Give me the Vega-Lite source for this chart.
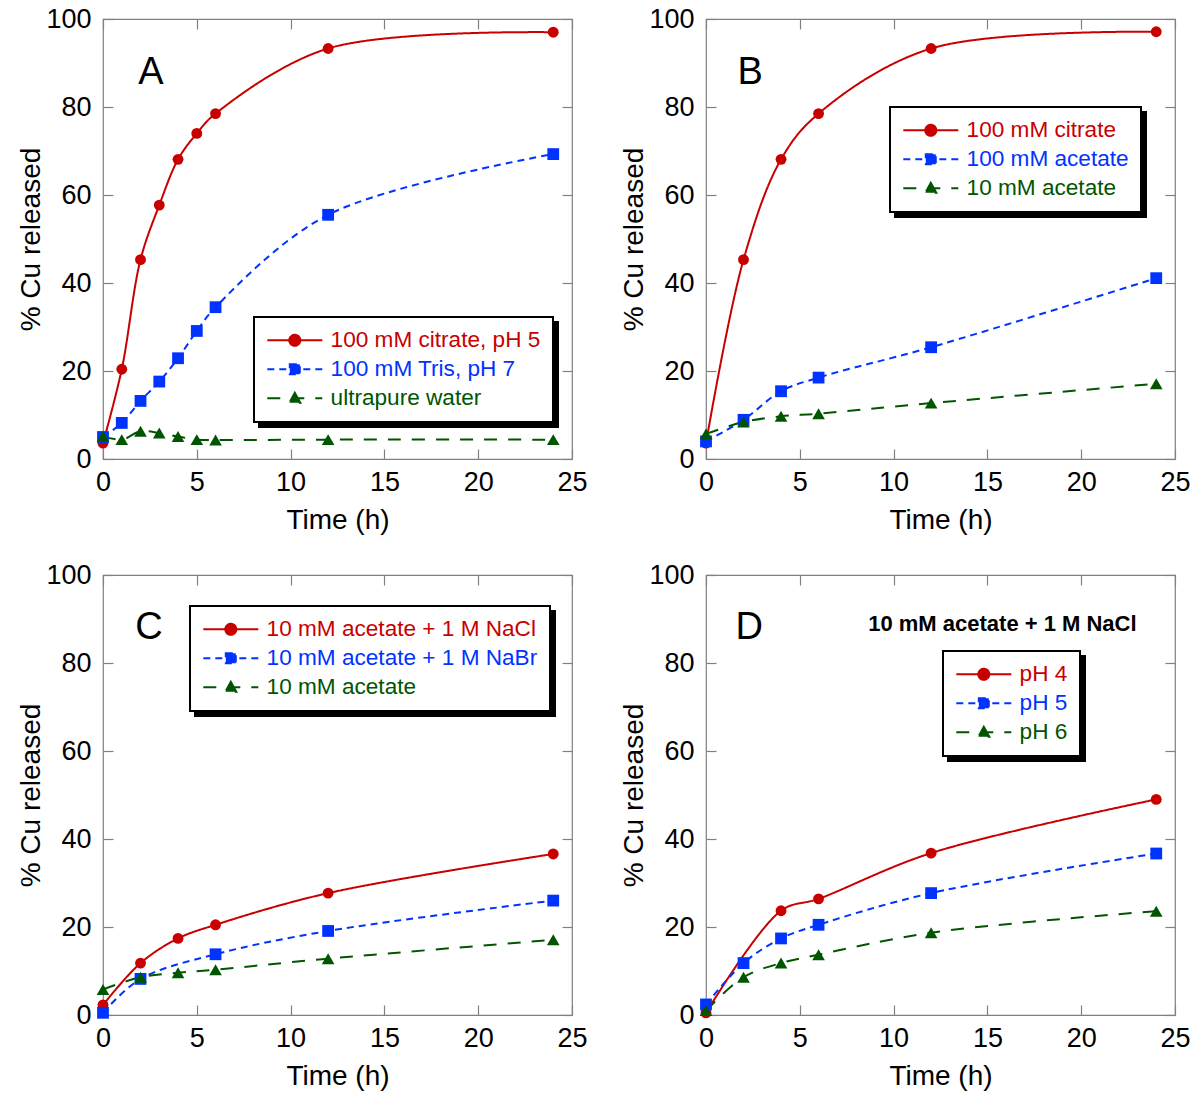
{
  "$schema": "https://vega.github.io/schema/vega-lite/v6.json",
  "background": "white",
  "padding": {"left": 17, "top": 4, "right": 5, "bottom": 5},
  "columns": 2,
  "spacing": {"row": 116, "column": 134},
  "bounds": "flush",
  "resolve": {"scale": {"color": "independent", "stroke": "independent", "strokeDash": "independent", "shape": "independent", "size": "independent"}},
  "config": {
    "view": {"stroke": "#808080", "strokeWidth": 1.2},
    "axis": {"labelFont": "Liberation Sans", "titleFont": "Liberation Sans", "labelFontSize": 27, "titleFontSize": 28, "titleFontWeight": "normal", "labelColor": "black", "titleColor": "black", "domain": false, "grid": false, "tickColor": "#808080", "tickSize": -10, "tickWidth": 1.2, "labelFlush": false, "labelOverlap": false},
    "axisX": {"titlePadding": 11, "labelPadding": 20},
    "axisY": {"titlePadding": 0, "labelPadding": 22},
    "legend": {"orient": "none", "title": null, "strokeColor": "black", "fillColor": "white", "strokeWidth": 2, "padding": 12, "labelFont": "Liberation Sans", "labelFontSize": 22.6, "labelOffset": 42, "labelLimit": 500, "symbolSize": 400, "symbolStrokeWidth": 2, "rowPadding": 6, "symbolOpacity": 1},
    "text": {"font": "Liberation Sans"}
  },
  "concat": [
    {
      "width": 469, "height": 440,
      "data": {"values": [
        {"t": 0, "v": 3.6, "s": "100 mM citrate, pH 5"},
        {"t": 1, "v": 20.4, "s": "100 mM citrate, pH 5"},
        {"t": 2, "v": 45.3, "s": "100 mM citrate, pH 5"},
        {"t": 3, "v": 57.7, "s": "100 mM citrate, pH 5"},
        {"t": 4, "v": 68.1, "s": "100 mM citrate, pH 5"},
        {"t": 5, "v": 74.0, "s": "100 mM citrate, pH 5"},
        {"t": 6, "v": 78.5, "s": "100 mM citrate, pH 5"},
        {"t": 12, "v": 93.3, "s": "100 mM citrate, pH 5"},
        {"t": 24, "v": 97.0, "s": "100 mM citrate, pH 5"},
        {"t": 0, "v": 5.0, "s": "100 mM Tris, pH 7"},
        {"t": 1, "v": 8.2, "s": "100 mM Tris, pH 7"},
        {"t": 2, "v": 13.2, "s": "100 mM Tris, pH 7"},
        {"t": 3, "v": 17.6, "s": "100 mM Tris, pH 7"},
        {"t": 4, "v": 22.9, "s": "100 mM Tris, pH 7"},
        {"t": 5, "v": 29.1, "s": "100 mM Tris, pH 7"},
        {"t": 6, "v": 34.5, "s": "100 mM Tris, pH 7"},
        {"t": 12, "v": 55.5, "s": "100 mM Tris, pH 7"},
        {"t": 24, "v": 69.3, "s": "100 mM Tris, pH 7"},
        {"t": 0, "v": 5.2, "s": "ultrapure water"},
        {"t": 1, "v": 4.4, "s": "ultrapure water"},
        {"t": 2, "v": 6.3, "s": "ultrapure water"},
        {"t": 3, "v": 5.9, "s": "ultrapure water"},
        {"t": 4, "v": 5.1, "s": "ultrapure water"},
        {"t": 5, "v": 4.4, "s": "ultrapure water"},
        {"t": 6, "v": 4.3, "s": "ultrapure water"},
        {"t": 12, "v": 4.4, "s": "ultrapure water"},
        {"t": 24, "v": 4.4, "s": "ultrapure water"}
      ]},
      "layer": [
        {
          "mark": {"type": "line", "interpolate": "catmull-rom", "strokeWidth": 2},
          "encoding": {
            "x": {"field": "t", "type": "quantitative", "scale": {"domain": [0, 25], "nice": false}, "axis": {"title": "Time (h)", "values": [0, 5, 10, 15, 20, 25]}},
            "y": {"field": "v", "type": "quantitative", "scale": {"domain": [0, 100], "nice": false}, "axis": {"title": "% Cu released", "values": [0, 20, 40, 60, 80, 100]}},
            "stroke": {"field": "s", "type": "nominal", "scale": {"domain": ["100 mM Tris, pH 7", "100 mM citrate, pH 5", "ultrapure water"], "range": ["#0033ff", "#c80000", "#005500"]},
              "legend": {"legendX": 156, "legendY": 303, "fillColor": "black", "strokeColor": "black", "labelColor": "black", "symbolOpacity": 0, "labelExpr": "''", "labelOffset": 252}},
            "strokeDash": {"field": "s", "type": "nominal", "scale": {"domain": ["100 mM citrate, pH 5", "100 mM Tris, pH 7", "ultrapure water"], "range": [[1, 0], [7, 5], [13, 11]]},
              "legend": {"legendX": 151, "legendY": 298,
                "symbolType": {"expr": "datum.value == '100 mM citrate, pH 5' ? 'M-1,0H4.5M1.2,0A0.55,0.55,0,1,1,2.3,0A0.55,0.55,0,1,1,1.2,0Z' : datum.value == '100 mM Tris, pH 7' ? 'M-1,0H4.5M1.25,-0.5H2.25V0.5H1.25Z' : 'M-1,0H4.5M1.75,-0.55L2.3,0.45H1.2Z'"},
                "symbolStrokeColor": {"expr": "datum.value == '100 mM citrate, pH 5' ? '#c80000' : datum.value == '100 mM Tris, pH 7' ? '#0033ff' : '#005500'"},
                "symbolFillColor": {"expr": "datum.value == '100 mM citrate, pH 5' ? '#c80000' : datum.value == '100 mM Tris, pH 7' ? '#0033ff' : '#005500'"},
                "labelColor": {"expr": "datum.value == '100 mM citrate, pH 5' ? '#c80000' : datum.value == '100 mM Tris, pH 7' ? '#0033ff' : '#005500'"}}}
          }
        },
        {
          "mark": {"type": "point", "filled": true, "opacity": 1},
          "encoding": {
            "x": {"field": "t", "type": "quantitative", "axis": null},
            "y": {"field": "v", "type": "quantitative", "axis": null},
            "color": {"field": "s", "type": "nominal", "scale": {"domain": ["ultrapure water", "100 mM Tris, pH 7", "100 mM citrate, pH 5"], "range": ["#005500", "#0033ff", "#c80000"]}, "legend": null},
            "shape": {"field": "s", "type": "nominal", "scale": {"domain": ["ultrapure water", "100 mM Tris, pH 7", "100 mM citrate, pH 5"], "range": ["triangle-up", "square", "circle"]}, "legend": null},
            "size": {"field": "s", "type": "nominal", "scale": {"domain": ["ultrapure water", "100 mM Tris, pH 7", "100 mM citrate, pH 5"], "range": [160, 118, 122]}, "legend": null}
          }
        },
        {
          "data": {"values": [{}]},
          "mark": {"type": "text", "fontSize": 38, "align": "center", "baseline": "middle", "color": "black"},
          "encoding": {
            "x": {"datum": 2.56, "type": "quantitative", "scale": {"domain": [0, 25], "nice": false}, "axis": {"orient": "top", "labels": false, "title": null, "values": [0, 5, 10, 15, 20, 25]}},
            "y": {"datum": 87.7, "type": "quantitative", "scale": {"domain": [0, 100], "nice": false}, "axis": {"orient": "right", "labels": false, "title": null, "values": [0, 20, 40, 60, 80, 100]}},
            "text": {"value": "A"}
          }
        }
      ],
      "resolve": {"axis": {"x": "independent", "y": "independent"}}
    },
    {
      "width": 469, "height": 440,
      "data": {"values": [
        {"t": 0, "v": 3.6, "s": "100 mM citrate"},
        {"t": 2, "v": 45.3, "s": "100 mM citrate"},
        {"t": 4, "v": 68.1, "s": "100 mM citrate"},
        {"t": 6, "v": 78.5, "s": "100 mM citrate"},
        {"t": 12, "v": 93.3, "s": "100 mM citrate"},
        {"t": 24, "v": 97.1, "s": "100 mM citrate"},
        {"t": 0, "v": 4.0, "s": "100 mM acetate"},
        {"t": 2, "v": 8.9, "s": "100 mM acetate"},
        {"t": 4, "v": 15.4, "s": "100 mM acetate"},
        {"t": 6, "v": 18.5, "s": "100 mM acetate"},
        {"t": 12, "v": 25.4, "s": "100 mM acetate"},
        {"t": 24, "v": 41.1, "s": "100 mM acetate"},
        {"t": 0, "v": 5.7, "s": "10 mM acetate"},
        {"t": 2, "v": 8.4, "s": "10 mM acetate"},
        {"t": 4, "v": 9.7, "s": "10 mM acetate"},
        {"t": 6, "v": 10.3, "s": "10 mM acetate"},
        {"t": 12, "v": 12.7, "s": "10 mM acetate"},
        {"t": 24, "v": 17.1, "s": "10 mM acetate"}
      ]},
      "layer": [
        {
          "mark": {"type": "line", "interpolate": "catmull-rom", "strokeWidth": 2},
          "encoding": {
            "x": {"field": "t", "type": "quantitative", "scale": {"domain": [0, 25], "nice": false}, "axis": {"title": "Time (h)", "values": [0, 5, 10, 15, 20, 25]}},
            "y": {"field": "v", "type": "quantitative", "scale": {"domain": [0, 100], "nice": false}, "axis": {"title": "% Cu released", "values": [0, 20, 40, 60, 80, 100]}},
            "stroke": {"field": "s", "type": "nominal", "scale": {"domain": ["100 mM acetate", "100 mM citrate", "10 mM acetate"], "range": ["#0033ff", "#c80000", "#005500"]},
              "legend": {"legendX": 189, "legendY": 93, "fillColor": "black", "strokeColor": "black", "labelColor": "black", "symbolOpacity": 0, "labelExpr": "''", "labelOffset": 204}},
            "strokeDash": {"field": "s", "type": "nominal", "scale": {"domain": ["100 mM citrate", "100 mM acetate", "10 mM acetate"], "range": [[1, 0], [7, 5], [13, 11]]},
              "legend": {"legendX": 184, "legendY": 88,
                "symbolType": {"expr": "datum.value == '100 mM citrate' ? 'M-1,0H4.5M1.2,0A0.55,0.55,0,1,1,2.3,0A0.55,0.55,0,1,1,1.2,0Z' : datum.value == '100 mM acetate' ? 'M-1,0H4.5M1.25,-0.5H2.25V0.5H1.25Z' : 'M-1,0H4.5M1.75,-0.55L2.3,0.45H1.2Z'"},
                "symbolStrokeColor": {"expr": "datum.value == '100 mM citrate' ? '#c80000' : datum.value == '100 mM acetate' ? '#0033ff' : '#005500'"},
                "symbolFillColor": {"expr": "datum.value == '100 mM citrate' ? '#c80000' : datum.value == '100 mM acetate' ? '#0033ff' : '#005500'"},
                "labelColor": {"expr": "datum.value == '100 mM citrate' ? '#c80000' : datum.value == '100 mM acetate' ? '#0033ff' : '#005500'"}}}
          }
        },
        {
          "mark": {"type": "point", "filled": true, "opacity": 1},
          "encoding": {
            "x": {"field": "t", "type": "quantitative", "axis": null},
            "y": {"field": "v", "type": "quantitative", "axis": null},
            "color": {"field": "s", "type": "nominal", "scale": {"domain": ["10 mM acetate", "100 mM acetate", "100 mM citrate"], "range": ["#005500", "#0033ff", "#c80000"]}, "legend": null},
            "shape": {"field": "s", "type": "nominal", "scale": {"domain": ["10 mM acetate", "100 mM acetate", "100 mM citrate"], "range": ["triangle-up", "square", "circle"]}, "legend": null},
            "size": {"field": "s", "type": "nominal", "scale": {"domain": ["10 mM acetate", "100 mM acetate", "100 mM citrate"], "range": [160, 118, 122]}, "legend": null}
          }
        },
        {
          "data": {"values": [{}]},
          "mark": {"type": "text", "fontSize": 38, "align": "center", "baseline": "middle", "color": "black"},
          "encoding": {
            "x": {"datum": 2.35, "type": "quantitative", "scale": {"domain": [0, 25], "nice": false}, "axis": {"orient": "top", "labels": false, "title": null, "values": [0, 5, 10, 15, 20, 25]}},
            "y": {"datum": 87.7, "type": "quantitative", "scale": {"domain": [0, 100], "nice": false}, "axis": {"orient": "right", "labels": false, "title": null, "values": [0, 20, 40, 60, 80, 100]}},
            "text": {"value": "B"}
          }
        }
      ],
      "resolve": {"axis": {"x": "independent", "y": "independent"}}
    },
    {
      "width": 469, "height": 440,
      "data": {"values": [
        {"t": 0, "v": 2.3, "s": "10 mM acetate + 1 M NaCl"},
        {"t": 2, "v": 11.8, "s": "10 mM acetate + 1 M NaCl"},
        {"t": 4, "v": 17.4, "s": "10 mM acetate + 1 M NaCl"},
        {"t": 6, "v": 20.5, "s": "10 mM acetate + 1 M NaCl"},
        {"t": 12, "v": 27.7, "s": "10 mM acetate + 1 M NaCl"},
        {"t": 24, "v": 36.6, "s": "10 mM acetate + 1 M NaCl"},
        {"t": 0, "v": 0.5, "s": "10 mM acetate + 1 M NaBr"},
        {"t": 2, "v": 8.2, "s": "10 mM acetate + 1 M NaBr"},
        {"t": 6, "v": 13.8, "s": "10 mM acetate + 1 M NaBr"},
        {"t": 12, "v": 19.1, "s": "10 mM acetate + 1 M NaBr"},
        {"t": 24, "v": 26.0, "s": "10 mM acetate + 1 M NaBr"},
        {"t": 0, "v": 5.8, "s": "10 mM acetate"},
        {"t": 2, "v": 8.6, "s": "10 mM acetate"},
        {"t": 4, "v": 9.6, "s": "10 mM acetate"},
        {"t": 6, "v": 10.3, "s": "10 mM acetate"},
        {"t": 12, "v": 12.8, "s": "10 mM acetate"},
        {"t": 24, "v": 17.1, "s": "10 mM acetate"}
      ]},
      "layer": [
        {
          "mark": {"type": "line", "interpolate": "catmull-rom", "strokeWidth": 2},
          "encoding": {
            "x": {"field": "t", "type": "quantitative", "scale": {"domain": [0, 25], "nice": false}, "axis": {"title": "Time (h)", "values": [0, 5, 10, 15, 20, 25]}},
            "y": {"field": "v", "type": "quantitative", "scale": {"domain": [0, 100], "nice": false}, "axis": {"title": "% Cu released", "values": [0, 20, 40, 60, 80, 100]}},
            "stroke": {"field": "s", "type": "nominal", "scale": {"domain": ["10 mM acetate + 1 M NaBr", "10 mM acetate + 1 M NaCl", "10 mM acetate"], "range": ["#0033ff", "#c80000", "#005500"]},
              "legend": {"legendX": 92, "legendY": 36, "fillColor": "black", "strokeColor": "black", "labelColor": "black", "symbolOpacity": 0, "labelExpr": "''", "labelOffset": 313}},
            "strokeDash": {"field": "s", "type": "nominal", "scale": {"domain": ["10 mM acetate + 1 M NaCl", "10 mM acetate + 1 M NaBr", "10 mM acetate"], "range": [[1, 0], [7, 5], [13, 11]]},
              "legend": {"legendX": 87, "legendY": 31,
                "symbolType": {"expr": "datum.value == '10 mM acetate + 1 M NaCl' ? 'M-1,0H4.5M1.2,0A0.55,0.55,0,1,1,2.3,0A0.55,0.55,0,1,1,1.2,0Z' : datum.value == '10 mM acetate + 1 M NaBr' ? 'M-1,0H4.5M1.25,-0.5H2.25V0.5H1.25Z' : 'M-1,0H4.5M1.75,-0.55L2.3,0.45H1.2Z'"},
                "symbolStrokeColor": {"expr": "datum.value == '10 mM acetate + 1 M NaCl' ? '#c80000' : datum.value == '10 mM acetate + 1 M NaBr' ? '#0033ff' : '#005500'"},
                "symbolFillColor": {"expr": "datum.value == '10 mM acetate + 1 M NaCl' ? '#c80000' : datum.value == '10 mM acetate + 1 M NaBr' ? '#0033ff' : '#005500'"},
                "labelColor": {"expr": "datum.value == '10 mM acetate + 1 M NaCl' ? '#c80000' : datum.value == '10 mM acetate + 1 M NaBr' ? '#0033ff' : '#005500'"}}}
          }
        },
        {
          "mark": {"type": "point", "filled": true, "opacity": 1},
          "encoding": {
            "x": {"field": "t", "type": "quantitative", "axis": null},
            "y": {"field": "v", "type": "quantitative", "axis": null},
            "color": {"field": "s", "type": "nominal", "scale": {"domain": ["10 mM acetate", "10 mM acetate + 1 M NaBr", "10 mM acetate + 1 M NaCl"], "range": ["#005500", "#0033ff", "#c80000"]}, "legend": null},
            "shape": {"field": "s", "type": "nominal", "scale": {"domain": ["10 mM acetate", "10 mM acetate + 1 M NaBr", "10 mM acetate + 1 M NaCl"], "range": ["triangle-up", "square", "circle"]}, "legend": null},
            "size": {"field": "s", "type": "nominal", "scale": {"domain": ["10 mM acetate", "10 mM acetate + 1 M NaBr", "10 mM acetate + 1 M NaCl"], "range": [160, 118, 122]}, "legend": null}
          }
        },
        {
          "data": {"values": [{}]},
          "mark": {"type": "text", "fontSize": 38, "align": "center", "baseline": "middle", "color": "black"},
          "encoding": {
            "x": {"datum": 2.45, "type": "quantitative", "scale": {"domain": [0, 25], "nice": false}, "axis": {"orient": "top", "labels": false, "title": null, "values": [0, 5, 10, 15, 20, 25]}},
            "y": {"datum": 88, "type": "quantitative", "scale": {"domain": [0, 100], "nice": false}, "axis": {"orient": "right", "labels": false, "title": null, "values": [0, 20, 40, 60, 80, 100]}},
            "text": {"value": "C"}
          }
        }
      ],
      "resolve": {"axis": {"x": "independent", "y": "independent"}}
    },
    {
      "width": 469, "height": 440,
      "data": {"values": [
        {"t": 0, "v": 0.5, "s": "pH 4"},
        {"t": 4, "v": 23.7, "s": "pH 4"},
        {"t": 6, "v": 26.4, "s": "pH 4"},
        {"t": 12, "v": 36.8, "s": "pH 4"},
        {"t": 24, "v": 49.0, "s": "pH 4"},
        {"t": 0, "v": 2.4, "s": "pH 5"},
        {"t": 2, "v": 11.8, "s": "pH 5"},
        {"t": 4, "v": 17.4, "s": "pH 5"},
        {"t": 6, "v": 20.5, "s": "pH 5"},
        {"t": 12, "v": 27.7, "s": "pH 5"},
        {"t": 24, "v": 36.7, "s": "pH 5"},
        {"t": 0, "v": 1.0, "s": "pH 6"},
        {"t": 2, "v": 8.6, "s": "pH 6"},
        {"t": 4, "v": 11.8, "s": "pH 6"},
        {"t": 6, "v": 13.7, "s": "pH 6"},
        {"t": 12, "v": 18.7, "s": "pH 6"},
        {"t": 24, "v": 23.6, "s": "pH 6"}
      ]},
      "layer": [
        {
          "mark": {"type": "line", "interpolate": "catmull-rom", "strokeWidth": 2},
          "encoding": {
            "x": {"field": "t", "type": "quantitative", "scale": {"domain": [0, 25], "nice": false}, "axis": {"title": "Time (h)", "values": [0, 5, 10, 15, 20, 25]}},
            "y": {"field": "v", "type": "quantitative", "scale": {"domain": [0, 100], "nice": false}, "axis": {"title": "% Cu released", "values": [0, 20, 40, 60, 80, 100]}},
            "stroke": {"field": "s", "type": "nominal", "scale": {"domain": ["pH 5", "pH 4", "pH 6"], "range": ["#0033ff", "#c80000", "#005500"]},
              "legend": {"legendX": 242, "legendY": 81, "fillColor": "black", "strokeColor": "black", "labelColor": "black", "symbolOpacity": 0, "labelExpr": "''", "labelOffset": 90}},
            "strokeDash": {"field": "s", "type": "nominal", "scale": {"domain": ["pH 4", "pH 5", "pH 6"], "range": [[1, 0], [7, 5], [13, 11]]},
              "legend": {"legendX": 237, "legendY": 76,
                "symbolType": {"expr": "datum.value == 'pH 4' ? 'M-1,0H4.5M1.2,0A0.55,0.55,0,1,1,2.3,0A0.55,0.55,0,1,1,1.2,0Z' : datum.value == 'pH 5' ? 'M-1,0H4.5M1.25,-0.5H2.25V0.5H1.25Z' : 'M-1,0H4.5M1.75,-0.55L2.3,0.45H1.2Z'"},
                "symbolStrokeColor": {"expr": "datum.value == 'pH 4' ? '#c80000' : datum.value == 'pH 5' ? '#0033ff' : '#005500'"},
                "symbolFillColor": {"expr": "datum.value == 'pH 4' ? '#c80000' : datum.value == 'pH 5' ? '#0033ff' : '#005500'"},
                "labelColor": {"expr": "datum.value == 'pH 4' ? '#c80000' : datum.value == 'pH 5' ? '#0033ff' : '#005500'"}}}
          }
        },
        {
          "mark": {"type": "point", "filled": true, "opacity": 1},
          "encoding": {
            "x": {"field": "t", "type": "quantitative", "axis": null},
            "y": {"field": "v", "type": "quantitative", "axis": null},
            "color": {"field": "s", "type": "nominal", "scale": {"domain": ["pH 6", "pH 5", "pH 4"], "range": ["#005500", "#0033ff", "#c80000"]}, "legend": null},
            "shape": {"field": "s", "type": "nominal", "scale": {"domain": ["pH 6", "pH 5", "pH 4"], "range": ["triangle-up", "square", "circle"]}, "legend": null},
            "size": {"field": "s", "type": "nominal", "scale": {"domain": ["pH 6", "pH 5", "pH 4"], "range": [160, 118, 122]}, "legend": null}
          }
        },
        {
          "data": {"values": [{}]},
          "mark": {"type": "text", "fontSize": 38, "align": "center", "baseline": "middle", "color": "black"},
          "encoding": {
            "x": {"datum": 2.3, "type": "quantitative", "scale": {"domain": [0, 25], "nice": false}, "axis": {"orient": "top", "labels": false, "title": null, "values": [0, 5, 10, 15, 20, 25]}},
            "y": {"datum": 88, "type": "quantitative", "scale": {"domain": [0, 100], "nice": false}, "axis": {"orient": "right", "labels": false, "title": null, "values": [0, 20, 40, 60, 80, 100]}},
            "text": {"value": "D"}
          }
        },
        {
          "data": {"values": [{}]},
          "mark": {"type": "text", "fontSize": 22, "fontWeight": "bold", "align": "center", "baseline": "middle", "color": "black"},
          "encoding": {
            "x": {"datum": 15.8, "type": "quantitative", "axis": null},
            "y": {"datum": 88.9, "type": "quantitative", "axis": null},
            "text": {"value": "10 mM acetate + 1 M NaCl"}
          }
        }
      ],
      "resolve": {"axis": {"x": "independent", "y": "independent"}}
    }
  ]
}
